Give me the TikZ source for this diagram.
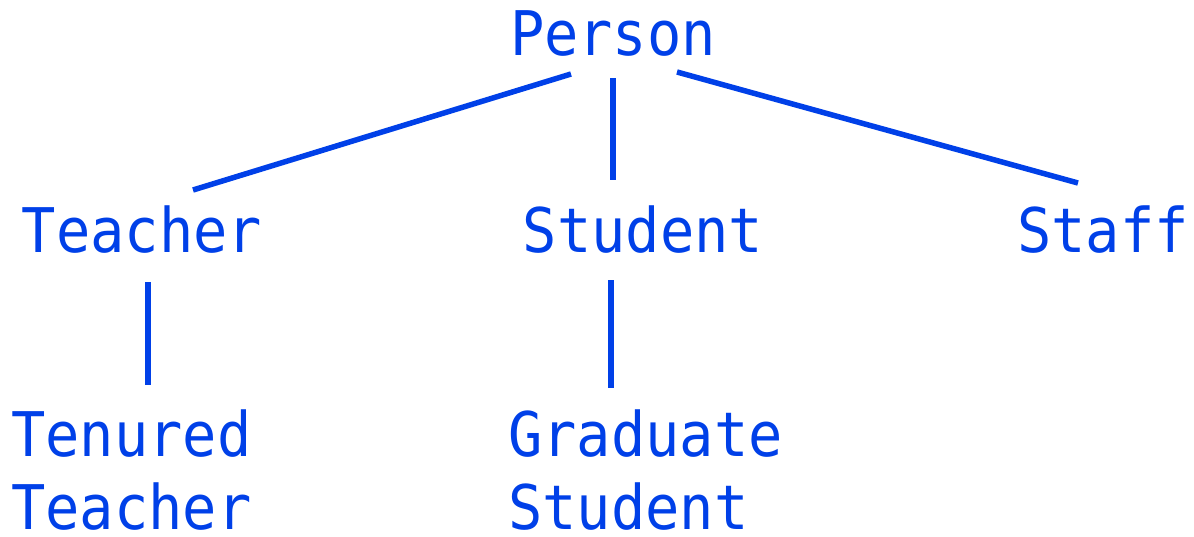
\documentclass[tikz,border=0pt]{standalone}
\usepackage{fontspec}
\setmonofont{DejaVu Sans Mono}
\definecolor{hierblue}{RGB}{0,64,232}
% class names are set slightly taller than the font's own proportions
\newcommand{\classname}[1]{\scalebox{1}[1.08]{#1}}
\begin{document}
\begin{tikzpicture}[x=1pt,y=-1pt,
  label/.style={text=hierblue,font=\ttfamily\fontsize{57}{74}\selectfont,inner sep=0pt,text depth=0pt,anchor=base},
  leftlabel/.style={label,anchor=base west},
  link/.style={draw=hierblue,line width=5.5pt}]
\useasboundingbox (0,0) rectangle (1194,536);
% class names
\node[label] (person) at (613,55) {\classname{Person}};
\node[label] (teacher) at (142,252) {\classname{Teacher}};
\node[label] (student) at (643,252) {\classname{Student}};
\node[label] (staff) at (1103,252) {\classname{Staff}};
\node[leftlabel] (tenured) at (11,456) {\classname{Tenured}};
\node[leftlabel] (tenuredB) at (11,529) {\classname{Teacher}};
\node[leftlabel] (graduate) at (508,456) {\classname{Graduate}};
\node[leftlabel] (graduateB) at (508,529) {\classname{Student}};
% end points of the links
\coordinate (p1) at (571,74);
\coordinate (p2) at (613,78);
\coordinate (p3) at (677,72);
\coordinate (t0) at (193,190);
\coordinate (s0) at (613,180);
\coordinate (f0) at (1078,183);
\coordinate (t1) at (148,282);
\coordinate (tt) at (148,385);
\coordinate (s1) at (611,280);
\coordinate (gs) at (611,388);
% inheritance links
\draw[link] (p1) -- (t0);
\draw[link] (p2) -- (s0);
\draw[link] (p3) -- (f0);
\draw[link] (t1) -- (tt);
\draw[link] (s1) -- (gs);
\end{tikzpicture}
\end{document}
